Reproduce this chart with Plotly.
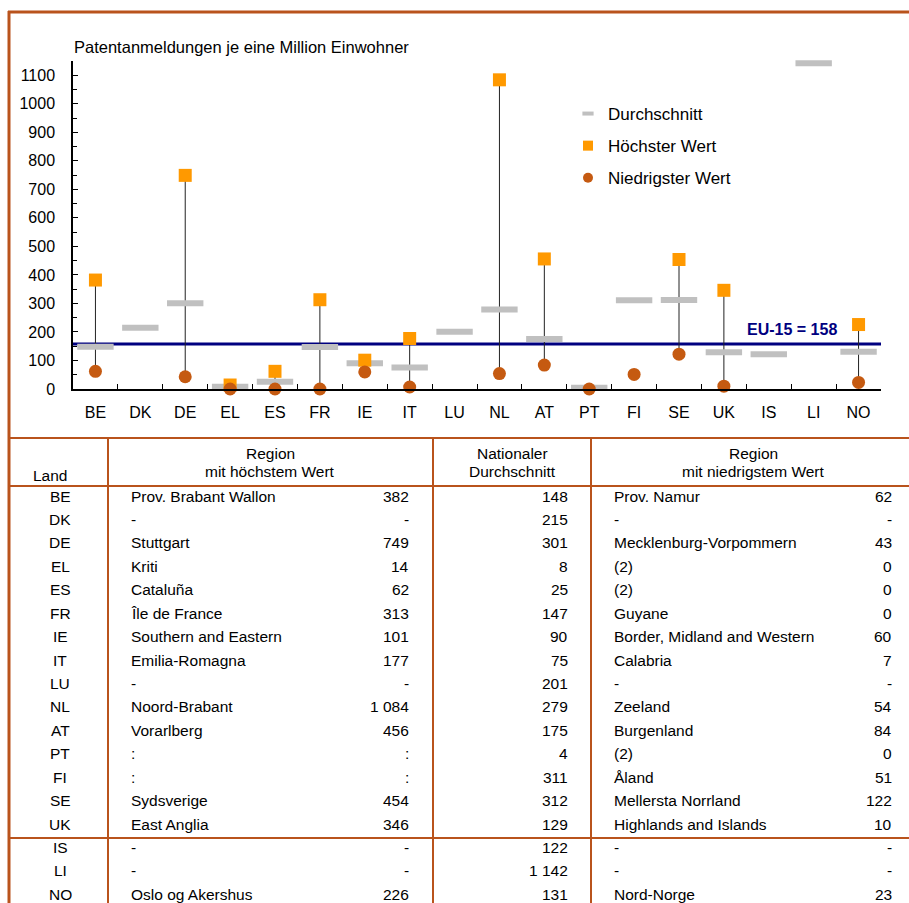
import plotly.graph_objects as go

# ---- data -------------------------------------------------------------
countries = ["BE", "DK", "DE", "EL", "ES", "FR", "IE", "IT", "LU", "NL",
             "AT", "PT", "FI", "SE", "UK", "IS", "LI", "NO"]
highest = [382, None, 749, 14, 62, 313, 101, 177, None, 1084,
           456, None, None, 454, 346, None, None, 226]
average = [148, 215, 301, 8, 25, 147, 90, 75, 201, 279,
           175, 4, 311, 312, 129, 122, 1142, 131]
lowest = [62, None, 43, 0, 0, 0, 60, 7, None, 54,
          84, 0, 51, 122, 10, None, None, 23]
eu15 = 158

highest_region = ["Prov. Brabant Wallon", "-", "Stuttgart", "Kriti", "Cataluña",
                  "Île de France", "Southern and Eastern", "Emilia-Romagna", "-",
                  "Noord-Brabant", "Vorarlberg", ":", ":", "Sydsverige",
                  "East Anglia", "-", "-", "Oslo og Akershus"]
lowest_region = ["Prov. Namur", "-", "Mecklenburg-Vorpommern", "(2)", "(2)",
                 "Guyane", "Border, Midland and Western", "Calabria", "-",
                 "Zeeland", "Burgenland", "(2)", "Åland", "Mellersta Norrland",
                 "Highlands and Islands", "-", "-", "Nord-Norge"]

# ---- styling ----------------------------------------------------------
FONT = "Liberation Sans, Arial, sans-serif"
BORDER = "#B9531C"
W, H = 909, 903
L, R, T, B = 73, 881, 61, 389          # plot area in pixels


def px(x):
    return (x - L) / (R - L)


def py(y):
    return (B - y) / (B - T)


def fmt(v, missing="-"):
    if v is None:
        return missing
    return f"{v:,}".replace(",", " ")


fig = go.Figure()

# drop lines between highest and lowest regional value
lx, ly = [], []
for c, hi, lo in zip(countries, highest, lowest):
    if hi is not None and lo is not None:
        lx += [c, c, None]
        ly += [lo, hi, None]
fig.add_trace(go.Scatter(x=lx, y=ly, mode="lines", showlegend=False,
                         line=dict(color="#222222", width=1), hoverinfo="skip",
                         cliponaxis=False))

fig.add_trace(go.Scatter(
    x=countries, y=average, mode="markers", showlegend=False, cliponaxis=False,
    marker=dict(symbol="line-ew", size=26, line=dict(color="#C0C0C0", width=6))))
fig.add_trace(go.Scatter(
    x=countries, y=highest, mode="markers", showlegend=False, cliponaxis=False,
    marker=dict(symbol="square", size=13, color="#FF9900")))
fig.add_trace(go.Scatter(
    x=countries, y=lowest, mode="markers", showlegend=False, cliponaxis=False,
    marker=dict(symbol="circle", size=13, color="#C55A11")))

# legend entries
fig.add_trace(go.Scatter(x=[None], y=[None], mode="markers", name="Durchschnitt",
                         legendgroup="a",
                         marker=dict(symbol="line-ew", size=8,
                                     line=dict(color="#C0C0C0", width=4))))
fig.add_trace(go.Scatter(x=[None], y=[None], mode="markers", name="Höchster Wert",
                         legendgroup="b",
                         marker=dict(symbol="square", size=10, color="#FF9900")))
fig.add_trace(go.Scatter(x=[None], y=[None], mode="markers", name="Niedrigster Wert",
                         legendgroup="c",
                         marker=dict(symbol="circle", size=10, color="#C55A11")))

shapes = []
annotations = []

# EU-15 reference line
shapes.append(dict(type="line", xref="paper", yref="y", x0=0, x1=1, y0=eu15, y1=eu15,
                   line=dict(color="#000080", width=3), layer="below"))
annotations.append(dict(xref="paper", yref="y", x=px(839), y=eu15, yshift=4,
                        xanchor="right", yanchor="bottom", showarrow=False,
                        text=f"<b>EU-15 = {eu15}</b>",
                        font=dict(family=FONT, size=16, color="#000080")))

# axis title
annotations.append(dict(xref="paper", yref="paper", x=px(72), y=py(47),
                        xanchor="left", yanchor="middle", showarrow=False,
                        text="Patentanmeldungen je eine Million Einwohner",
                        font=dict(family=FONT, size=16.5, color="black")))


# ---- frame and table grid ---------------------------------------------
def hline(y, x0, x1, w=2):
    shapes.append(dict(type="line", xref="paper", yref="paper",
                       x0=px(x0), x1=px(x1), y0=py(y), y1=py(y),
                       line=dict(color=BORDER, width=w)))


def vline(x, y0, y1, w=2):
    shapes.append(dict(type="line", xref="paper", yref="paper",
                       x0=px(x), x1=px(x), y0=py(y0), y1=py(y1),
                       line=dict(color=BORDER, width=w)))


hline(12, 8, 915, 3)
vline(9, 11, 910, 3)
hline(438, 8, 915)
hline(486, 8, 915)
hline(838, 8, 915)
for xc in (108, 433, 591):
    vline(xc, 438, 910)


def txt(x, y, s, anchor="left", size=15.5):
    annotations.append(dict(xref="paper", yref="paper", x=px(x), y=py(y),
                            xanchor=anchor, yanchor="middle", showarrow=False,
                            text=s, font=dict(family=FONT, size=size, color="black")))


# header
txt(50, 475, "Land", "center")
txt(270, 453, "Region", "center")
txt(270, 472, "mit höchstem Wert", "center")
txt(512, 453, "Nationaler", "center")
txt(512, 472, "Durchschnitt", "center")
txt(753, 453, "Region", "center")
txt(753, 472, "mit niedrigstem Wert", "center")

# rows
for i, c in enumerate(countries):
    y = 496 + i * 23.43
    txt(60, y, c, "center")
    txt(129, y, highest_region[i])
    txt(411, y, fmt(highest[i], highest_region[i]), "right")
    txt(570, y, fmt(average[i]), "right")
    txt(612, y, lowest_region[i])
    txt(894, y, fmt(lowest[i], lowest_region[i]), "right")

fig.update_layout(
    width=W, height=H,
    margin=dict(l=L, r=W - R, t=T, b=H - B, pad=0),
    paper_bgcolor="white", plot_bgcolor="white",
    font=dict(family=FONT, size=16, color="black"),
    shapes=shapes, annotations=annotations,
    legend=dict(x=px(568), y=py(96), xanchor="left", yanchor="top",
                bgcolor="rgba(0,0,0,0)", font=dict(family=FONT, size=17),
                tracegroupgap=7, traceorder="grouped"),
    xaxis=dict(type="category", categoryorder="array", categoryarray=countries,
               range=[-0.5, len(countries) - 0.5], tickson="boundaries",
               ticks="inside", ticklen=5, tickcolor="black",
               showline=True, linecolor="black", linewidth=1.5,
               showgrid=False, zeroline=False, ticklabelstandoff=8,
               tickfont=dict(family=FONT, size=16)),
    yaxis=dict(range=[0, 1150], tick0=0, dtick=100, ticks="inside", ticklen=5,
               tickcolor="black", showline=True, linecolor="black", linewidth=1.5,
               showgrid=False, zeroline=False, ticklabelstandoff=13,
               minor=dict(dtick=50, ticks="inside", ticklen=4, tickcolor="black"),
               tickfont=dict(family=FONT, size=16)),
)

fig.write_html("out.html")
